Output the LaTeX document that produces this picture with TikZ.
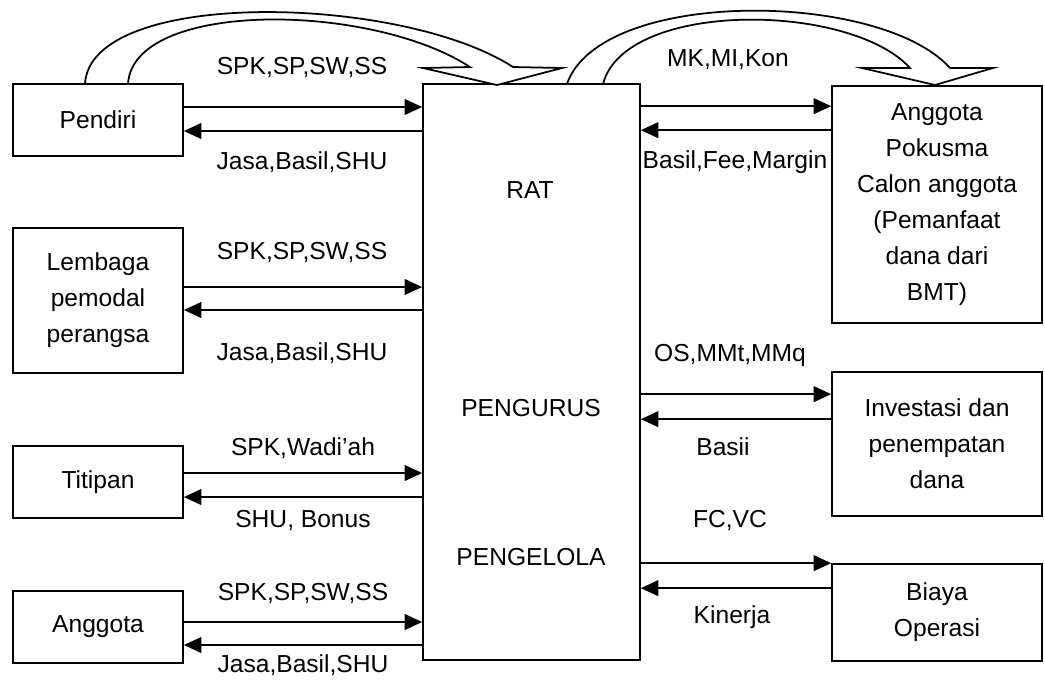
\documentclass[tikz,border=0pt]{standalone}
\usepackage{fontspec}
\setmainfont{Liberation Sans}
\usetikzlibrary{arrows.meta, positioning, calc}

\begin{document}
\begin{tikzpicture}[
    x=0.02cm, y=-0.02cm,
    >={Triangle[length=10pt,width=9pt]},
    line width=1pt,
    font=\fontsize{14}{20.5}\selectfont,
    box/.style={draw, align=center, inner sep=0pt},
    lbl/.style={inner sep=0pt}
]

\useasboundingbox (0,0) rectangle (1045,681);

% =========================================================
% LEFT: sources of funds
% =========================================================
\node[box, minimum width=3.4cm, minimum height=1.44cm] (pendiri) at (98,120) {Pendiri};
\node[box, minimum width=3.4cm, minimum height=2.9cm] (lembaga) at (98,300.5) {Lembaga\\pemodal\\perangsa};
\node[box, minimum width=3.4cm, minimum height=1.44cm] (titipan) at (98,482) {Titipan};
\node[box, minimum width=3.4cm, minimum height=1.44cm] (anggota) at (98,627) {Anggota};

% =========================================================
% MIDDLE: RAT / pengurus / pengelola
% =========================================================
\node[box, minimum width=4.34cm, minimum height=11.52cm] (core) at (531.5,372) {};
\node[lbl] (rat) at (530,190) {RAT};
\node[lbl] (pengurus) at (531,408) {PENGURUS};
\node[lbl] (pengelola) at (531,557) {PENGELOLA};

% =========================================================
% RIGHT: uses of funds
% =========================================================
\node[box, minimum width=4.2cm, minimum height=4.74cm] (pokusma) at (937,204.5)
    {Anggota\\Pokusma\\Calon anggota\\(Pemanfaat\\dana dari\\BMT)};
\node[box, minimum width=4.2cm, minimum height=2.88cm] (investasi) at (937,444)
    {Investasi dan\\penempatan\\dana};
\node[box, minimum width=4.2cm, minimum height=1.94cm] (biaya) at (937,612.5)
    {Biaya\\Operasi};

% hollow curved arrows
\draw[fill=white]
    (85,84) .. controls (90,-12) and (400,-6) .. (513,67)
    -- (562,68) -- (497,85) -- (423,68) -- (470,67)
    .. controls (370,2) and (133,0) .. (128,84) -- cycle;
\draw[fill=white]
    (567,84) .. controls (600,-12) and (880,-10) .. (950,68)
    -- (993,68) -- (935,85) -- (862,68) -- (910,68)
    .. controls (850,2) and (625,0) .. (603,84) -- cycle;

% flows on the left
\draw[->] ($(pendiri.east)+(0,-13)$) -- ($(pendiri.east -| core.west)+(0,-13)$);
\draw[<-] ($(pendiri.east)+(0,11)$) -- ($(pendiri.east -| core.west)+(0,11)$);
\draw[->] ($(lembaga.east)+(0,-13.5)$) -- ($(lembaga.east -| core.west)+(0,-13.5)$);
\draw[<-] ($(lembaga.east)+(0,9.5)$) -- ($(lembaga.east -| core.west)+(0,9.5)$);
\draw[->] ($(titipan.east)+(0,-9)$) -- ($(titipan.east -| core.west)+(0,-9)$);
\draw[<-] ($(titipan.east)+(0,15)$) -- ($(titipan.east -| core.west)+(0,15)$);
\draw[->] ($(anggota.east)+(0,-5)$) -- ($(anggota.east -| core.west)+(0,-5)$);
\draw[<-] ($(anggota.east)+(0,18)$) -- ($(anggota.east -| core.west)+(0,18)$);

% flows on the right
\draw[->] ($(core.east |- pokusma.north)+(0,21)$) -- ($(pokusma.north west)+(0,21)$);
\draw[<-] ($(core.east |- pokusma.north)+(0,45)$) -- ($(pokusma.north west)+(0,45)$);
\draw[->] ($(core.east |- investasi.north)+(0,23)$) -- ($(investasi.north west)+(0,23)$);
\draw[<-] ($(core.east |- investasi.north)+(0,48)$) -- ($(investasi.north west)+(0,48)$);
\draw[->] (core.east |- biaya.north) -- (biaya.north west);
\draw[<-] ($(core.east |- biaya.north)+(0,25)$) -- ($(biaya.north west)+(0,25)$);

% labels
\node[lbl] (inPendiri) at (302,67) {SPK,SP,SW,SS};
\node[lbl] (outPendiri) at (302,162) {Jasa,Basil,SHU};
\node[lbl] (inLembaga) at (302,252) {SPK,SP,SW,SS};
\node[lbl] (outLembaga) at (302,353) {Jasa,Basil,SHU};
\node[lbl] (inTitipan) at (303,448) {SPK,Wadi’ah};
\node[lbl] (outTitipan) at (303,520) {SHU, Bonus};
\node[lbl] (inAnggota) at (303,593) {SPK,SP,SW,SS};
\node[lbl] (outAnggota) at (303,665) {Jasa,Basil,SHU};
\node[lbl] (toPokusma) at (728,60) {MK,MI,Kon};
\node[lbl] (fromPokusma) at (735,162) {Basil,Fee,Margin};
\node[lbl] (toInvest) at (730,355) {OS,MMt,MMq};
\node[lbl] (fromInvest) at (723,447) {Basii};
\node[lbl] (toBiaya) at (730,520) {FC,VC};
\node[lbl] (fromBiaya) at (732,617) {Kinerja};

\end{tikzpicture}
\end{document}
